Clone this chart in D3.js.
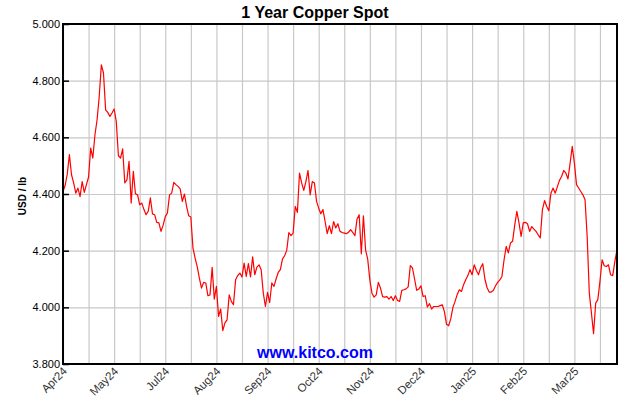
<!DOCTYPE html>
<html>
<head>
<meta charset="utf-8">
<script src="https://cdn.jsdelivr.net/npm/d3@7"></script>
<style>
  html, body { margin: 0; padding: 0; background: #fff; }
  svg { display: block; font-family: Arial, "Liberation Sans", sans-serif; }
</style>
</head>
<body>
<svg id="chart" width="630" height="400"></svg>
<script>
// ---- data (daily copper spot, USD/lb, Apr 2024 - Apr 2025) ----
const title = "1 Year Copper Spot";
const yAxisTitle = "USD / lb";
const watermark = "www.kitco.com";
const prices = [
  4.409,4.43,4.47,4.539,4.468,4.439,4.403,4.421,4.391,4.444,
  4.406,4.433,4.46,4.562,4.527,4.609,4.662,4.744,4.856,4.827,
  4.697,4.688,4.674,4.686,4.70,4.656,4.535,4.527,4.559,4.439,
  4.45,4.515,4.368,4.48,4.401,4.397,4.362,4.368,4.345,4.327,
  4.339,4.386,4.33,4.327,4.30,4.298,4.268,4.29,4.32,4.333,
  4.397,4.403,4.441,4.433,4.427,4.418,4.374,4.40,4.356,4.323,
  4.319,4.209,4.174,4.144,4.103,4.068,4.088,4.086,4.041,4.044,
  4.141,4.029,4.074,3.968,3.994,3.918,3.945,3.956,4.044,4.021,
  4.009,4.097,4.112,4.121,4.107,4.156,4.109,4.154,4.107,4.178,
  4.115,4.142,4.15,4.133,4.05,4.003,4.053,4.017,4.086,4.074,
  4.10,4.123,4.133,4.17,4.182,4.201,4.264,4.253,4.262,4.356,
  4.335,4.474,4.439,4.413,4.444,4.483,4.397,4.444,4.439,4.374,
  4.35,4.33,4.345,4.303,4.26,4.288,4.26,4.303,4.28,4.295,
  4.268,4.264,4.262,4.26,4.265,4.274,4.264,4.253,4.312,4.327,
  4.189,4.323,4.203,4.17,4.097,4.05,4.036,4.044,4.088,4.068,
  4.038,4.036,4.038,4.029,4.038,4.024,4.041,4.024,4.021,4.06,
  4.062,4.065,4.072,4.147,4.139,4.10,4.06,4.065,4.076,4.038,
  4.041,4.001,4.013,3.994,4.003,4.003,4.003,4.006,4.009,3.985,
  3.94,3.935,3.96,4.0,4.021,4.045,4.062,4.056,4.08,4.097,
  4.112,4.133,4.115,4.15,4.13,4.115,4.14,4.154,4.10,4.07,
  4.054,4.054,4.060,4.076,4.088,4.097,4.109,4.168,4.215,4.192,
  4.227,4.233,4.29,4.339,4.298,4.25,4.298,4.30,4.295,4.268,
  4.285,4.276,4.268,4.256,4.245,4.345,4.377,4.356,4.341,4.403,
  4.421,4.403,4.425,4.448,4.462,4.483,4.474,4.453,4.509,4.568,
  4.509,4.433,4.421,4.409,4.397,4.38,4.25,4.05,3.98,3.907,
  4.015,4.027,4.091,4.168,4.147,4.144,4.15,4.115,4.112,4.162,
  4.203
];
const yTicks = [3.8, 4.0, 4.2, 4.4, 4.6, 4.8, 5.0];
const gridDays = d3.range(0, 253, 12);           // vertical grid every 12 trading days
const labelDays = [0, 24, 48, 72, 96, 120, 144, 168, 192, 216, 240];
const labelTexts = ["Apr24","May24","Jul24","Aug24","Sep24","Oct24","Nov24","Dec24","Jan25","Feb25","Mar25"];

// ---- layout ----
const svg = d3.select("#chart");
const mLeft = 63, mRight = 617, mTop = 24, mBottom = 364;

const x = d3.scaleLinear().domain([0, prices.length - 1]).range([mLeft, mRight]);
const y = d3.scaleLinear().domain([3.8, 5.0]).range([mBottom, mTop]);

// title
svg.append("text")
  .attr("x", 315).attr("y", 18)
  .attr("text-anchor", "middle")
  .style("font-size", "16px").style("font-weight", "bold").style("fill", "#000")
  .text(title);

// vertical gridlines
const gx = svg.append("g")
  .attr("transform", `translate(0,${mBottom})`)
  .call(d3.axisBottom(x).tickValues(gridDays).tickSize(-(mBottom - mTop)).tickFormat(""));
gx.select(".domain").remove();
gx.selectAll("line").attr("stroke", "#c8c8c8").attr("stroke-width", 1.2);

// horizontal gridlines
const gy = svg.append("g")
  .attr("transform", `translate(${mLeft},0)`)
  .call(d3.axisLeft(y).tickValues(yTicks).tickSize(-(mRight - mLeft)).tickFormat(""));
gy.select(".domain").remove();
gy.selectAll("line").attr("stroke", "#c8c8c8").attr("stroke-width", 1.2);

// y axis labels + inner ticks
const ya = svg.append("g")
  .attr("transform", `translate(${mLeft},0)`)
  .call(d3.axisLeft(y).tickValues(yTicks).tickSize(-6).tickPadding(3).tickFormat(d3.format(".3f")));
ya.select(".domain").remove();
ya.selectAll("line").attr("stroke", "#000").attr("stroke-width", 1.5);
ya.selectAll("text").style("font-size", "11px").style("fill", "#000")
  .style("font-family", "Arial, 'Liberation Sans', sans-serif");

// watermark
svg.append("text")
  .attr("x", 315).attr("y", 358)
  .attr("text-anchor", "middle")
  .style("font-size", "16px").style("font-weight", "bold").style("fill", "#0000ff")
  .text(watermark);

// price line
const line = d3.line().x((d, i) => x(i)).y(d => y(d));
svg.append("path")
  .datum(prices)
  .attr("d", line)
  .attr("fill", "none")
  .attr("stroke", "#ff0000")
  .attr("stroke-width", 1.2)
  .attr("stroke-linejoin", "round");

// frame
svg.append("rect")
  .attr("x", mLeft).attr("y", mTop)
  .attr("width", mRight - mLeft).attr("height", mBottom - mTop)
  .attr("fill", "none").attr("stroke", "#000").attr("stroke-width", 2);

// x labels (rotated)
svg.append("g").selectAll("text")
  .data(labelDays)
  .join("text")
  .attr("transform", d => `translate(${x(d) + 2},${mBottom + 5}) rotate(-45)`)
  .attr("text-anchor", "end")
  .attr("dy", "0.35em")
  .style("font-size", "11.5px").style("fill", "#333")
  .text((d, i) => labelTexts[i]);

// y axis title
svg.append("text")
  .attr("transform", "translate(26,196) rotate(-90)")
  .attr("text-anchor", "middle")
  .style("font-size", "10px").style("font-weight", "bold").style("fill", "#000")
  .text(yAxisTitle);
</script>
</body>
</html>
